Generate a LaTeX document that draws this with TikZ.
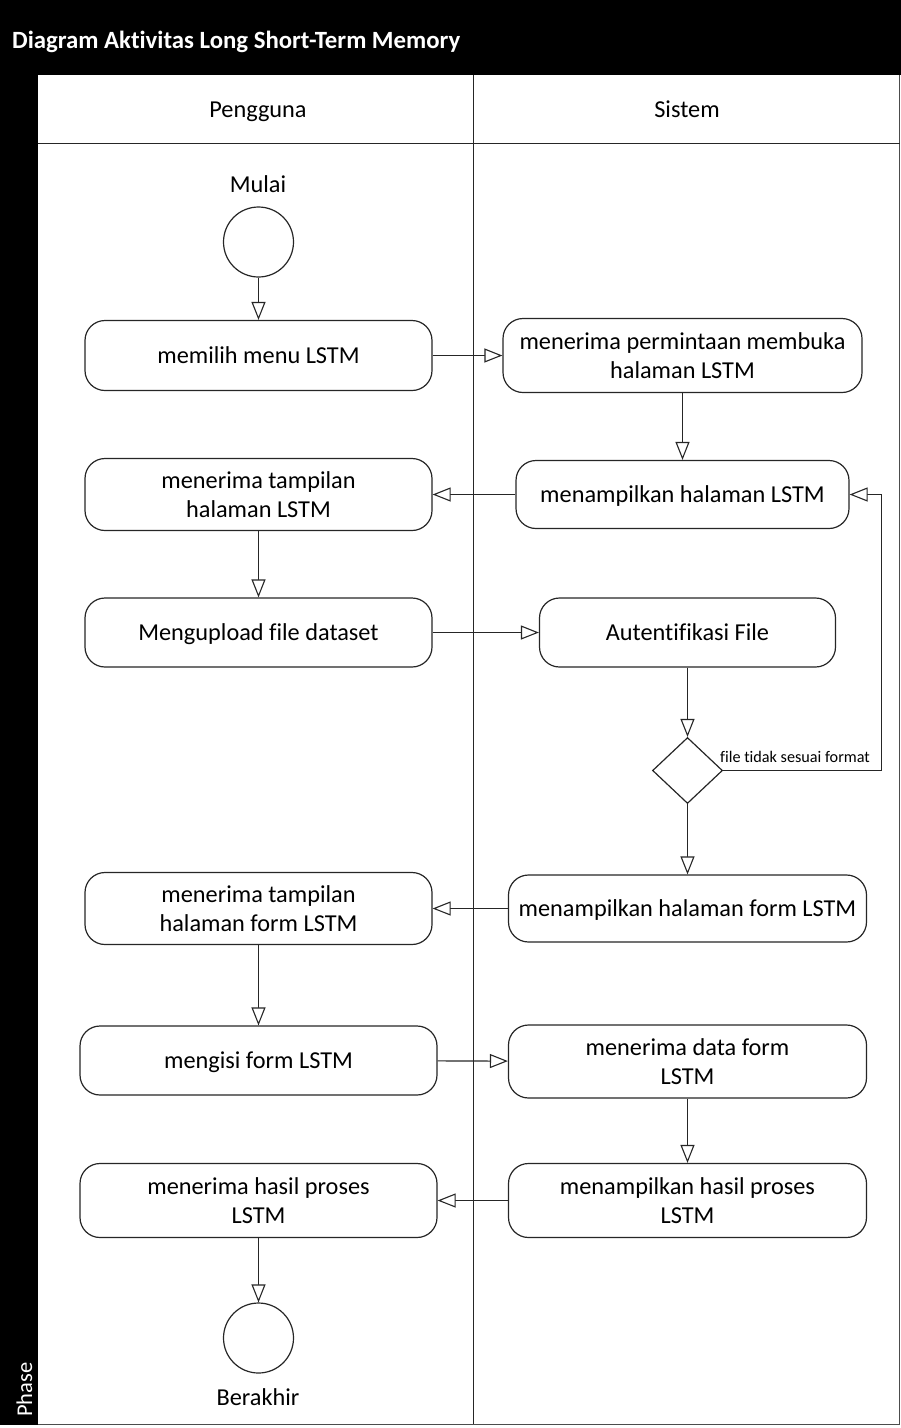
\documentclass[tikz,border=0pt]{standalone}
\usepackage{fontspec}
\setmainfont{Carlito}[Ligatures={NoCommon}]
\usetikzlibrary{arrows.meta,shapes.geometric}
\begin{document}
\begin{tikzpicture}[x=1pt,y=-1pt,
  act/.style={draw=black!85, line width=1.2pt, rounded corners=20pt, fill=white,
    align=center, inner sep=0pt, font=\fontsize{24.3}{29}\selectfont},
  one/.style={text height=15.6pt, text depth=0pt},
  flow/.style={draw=black!85, line width=1.1pt,
    -{Triangle[open, length=18pt, width=14pt, fill=white]}},
  terminal/.style={draw=black!85, line width=1.2pt, circle, minimum size=70pt, inner sep=0pt},
  lbl/.style={font=\fontsize{24.3}{29}\selectfont, inner sep=0pt, anchor=base},
  decision/.style={draw=black!85, line width=1.2pt, diamond, minimum width=70pt,
    minimum height=66pt, inner sep=0pt, aspect=1.06}
]
\useasboundingbox (0,0) rectangle (901,1428);

% frame: title bar, phase bar, lanes
\fill[black] (0,0) rectangle (901,75);
\fill[black] (0,75) rectangle (38,1425);
\draw[black!70, line width=1.5pt] (38,1424.5) -- (899.5,1424.5) -- (899.5,75);
\draw[black!85, line width=1.1pt] (38,143.5) -- (899.5,143.5);
\draw[black!85, line width=1.1pt] (473.5,75) -- (473.5,1424);
\node[anchor=base west, text=white, inner sep=0pt,
  font=\fontsize{24.8}{29}\selectfont\bfseries] (title) at (12,48)
  {Diagram Aktivitas Long Short-Term Memory};
\node[rotate=90, anchor=base west, text=white, inner sep=0pt,
  font=\fontsize{22.5}{27}\selectfont] (phase) at (32,1417) {Phase};
\node[lbl] (laneA) at (258,117) {Pengguna};
\node[lbl] (laneS) at (687,117) {Sistem};

% start and end
\node[lbl] (mulai) at (258,192) {Mulai};
\node[terminal] (start) at (258.5,242) {};
\node[terminal] (end) at (258.5,1338) {};
\node[lbl] (berakhir) at (258,1405) {Berakhir};

% activities of the user lane
\node[act, one, minimum width=347pt, minimum height=70pt] (a1) at (258.5,355.5) {memilih menu LSTM};
\node[act, minimum width=347pt, minimum height=72pt] (a2) at (258.5,494.5) {menerima tampilan\\halaman LSTM};
\node[act, one, minimum width=347pt, minimum height=69pt] (a3) at (258.5,632.5) {Mengupload file dataset};
\node[act, minimum width=347pt, minimum height=72pt] (a4) at (258.5,908.5) {menerima tampilan\\halaman form LSTM};
\node[act, one, minimum width=357pt, minimum height=69pt] (a5) at (258.5,1060.5) {mengisi form LSTM};
\node[act, minimum width=357pt, minimum height=74pt] (a6) at (258.5,1200.5) {menerima hasil proses\\LSTM};

% activities of the system lane
\node[act, minimum width=359pt, minimum height=74pt] (s1) at (682.5,355.5) {menerima permintaan membuka\\halaman LSTM};
\node[act, one, minimum width=333pt, minimum height=68pt] (s2) at (682.5,494.5) {menampilkan halaman LSTM};
\node[act, one, minimum width=296pt, minimum height=69pt] (s3) at (687.5,632.5) {Autentifikasi File};
\node[decision] (d) at (687.5,770.5) {};
\node[act, one, minimum width=358pt, minimum height=67pt] (s4) at (687.5,908.5) {menampilkan halaman form LSTM};
\node[act, minimum width=358pt, minimum height=73pt] (s5) at (687.5,1061.5) {menerima data form\\LSTM};
\node[act, minimum width=358pt, minimum height=74pt] (s6) at (687.5,1200.5) {menampilkan hasil proses\\LSTM};

% control flow
\draw[flow] (start) -- (a1);
\draw[flow] (a1) -- (s1);
\draw[flow] (s1) -- (s2);
\draw[flow] (s2) -- (a2);
\draw[flow] (a2) -- (a3);
\draw[flow] (a3) -- (s3);
\draw[flow] (s3) -- (d);
\draw[flow] (d.east) -- ++(158,0) |- (s2.east);
\node[anchor=base west, inner sep=0pt, font=\fontsize{16.2}{19}\selectfont] (guard)
  at (720,762) {file tidak sesuai format};
\draw[flow] (d) -- (s4);
\draw[flow] (s4) -- (a4);
\draw[flow] (a4) -- (a5);
\draw[flow] (a5) -- (s5);
\draw[flow] (s5) -- (s6);
\draw[flow] (s6) -- (a6);
\draw[flow] (a6) -- (end);
\end{tikzpicture}
\end{document}
